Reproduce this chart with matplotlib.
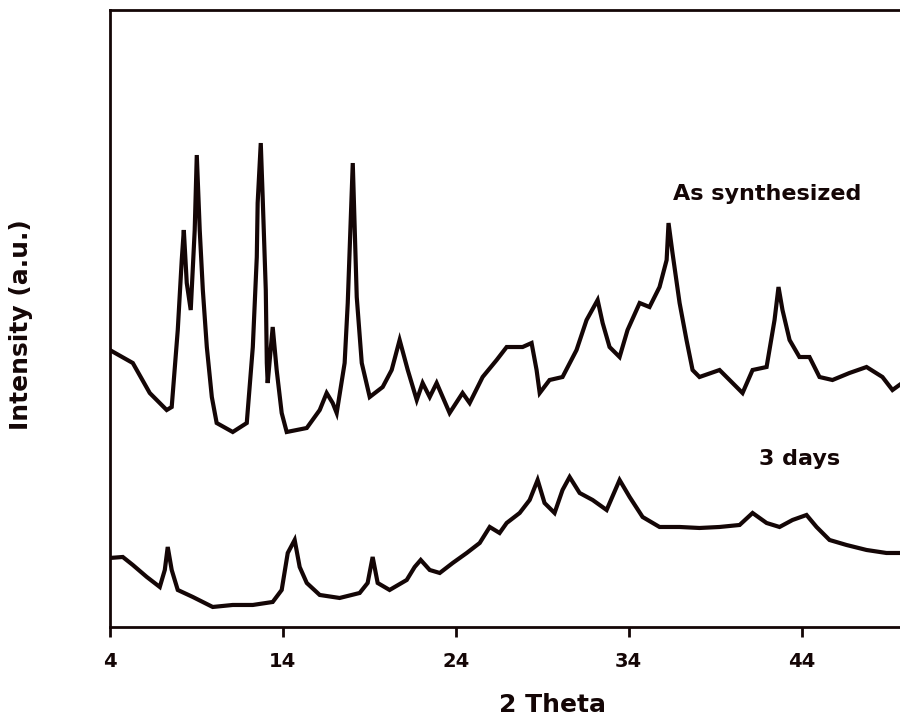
import numpy as np
import matplotlib
matplotlib.use("Agg")
import matplotlib.pyplot as plt

# XRD patterns (2 theta in degrees, intensity in arbitrary units)
synth_2theta = [4.0, 5.33, 6.31, 7.29, 7.58, 7.93, 8.16, 8.28, 8.45, 8.68, 8.91, 9.03, 9.20,
                9.38, 9.61, 9.90, 10.18, 11.11, 11.92, 12.27, 12.50, 12.55, 12.73, 12.84,
                13.02, 13.08, 13.13, 13.42, 13.65, 13.94, 14.23, 15.39, 16.14, 16.54, 16.89,
                17.12, 17.58, 17.76, 18.05, 18.28, 18.57, 19.03, 19.78, 20.30, 20.76, 21.23,
                21.75, 22.09, 22.50, 22.90, 23.65, 24.40, 24.81, 25.56, 26.37, 26.95, 27.87,
                28.39, 28.68, 28.86, 29.43, 30.18, 30.99, 31.57, 32.21, 32.50, 32.90, 33.48,
                33.94, 34.64, 35.21, 35.79, 36.20, 36.31, 36.54, 36.95, 37.35, 37.70, 38.10,
                39.26, 39.84, 40.59, 41.17, 41.98, 42.44, 42.67, 42.90, 43.31, 43.88, 44.46,
                45.04, 45.79, 46.77, 47.76, 48.68, 49.26, 49.66]
synth_int = [277, 264, 234, 217, 220, 297, 367, 397, 344, 317, 397, 472, 397,
             337, 280, 230, 204, 195, 204, 280, 370, 424, 484, 430,
             337, 264, 244, 300, 257, 214, 195, 199, 217, 234, 224,
             214, 264, 324, 464, 330, 264, 230, 240, 257, 287, 257,
             227, 244, 230, 244, 214, 234, 224, 250, 267, 280, 280,
             284, 257, 234, 247, 250, 277, 307, 327, 304, 280, 270,
             297, 324, 320, 340, 367, 404, 374, 324, 287, 257, 250,
             257, 247, 234, 257, 260, 307, 340, 317, 287, 270, 270,
             250, 247, 254, 260, 250, 237, 242]

days3_2theta = [4.0, 4.75, 5.33, 6.14, 6.89, 7.18, 7.35, 7.58, 7.93, 8.80, 9.95, 11.11,
                12.27, 13.42, 13.94, 14.29, 14.69, 14.98, 15.39, 16.14, 17.29, 18.45, 18.91,
                19.20, 19.49, 20.18, 21.17, 21.63, 21.98, 22.50, 23.08, 23.83, 24.64, 25.39,
                25.97, 26.54, 26.95, 27.70, 28.28, 28.74, 29.14, 29.72, 30.18, 30.59, 31.17,
                31.92, 32.73, 33.48, 34.06, 34.81, 35.79, 36.95, 38.10, 39.26, 40.42, 41.17,
                41.98, 42.73, 43.48, 44.29, 44.87, 45.62, 46.60, 47.76, 48.91, 49.66]
days3_int = [69, 70, 62, 50, 40, 57, 80, 57, 37, 30, 20, 22,
             22, 25, 37, 74, 87, 60, 44, 32, 29, 34, 44,
             70, 44, 37, 47, 60, 67, 57, 54, 64, 74, 84,
             100, 94, 104, 114, 127, 147, 124, 114, 137, 150, 134,
             127, 117, 147, 130, 110, 100, 100, 99, 100, 102, 114,
             104, 100, 107, 112, 100, 87, 82, 77, 74, 74]

xticks = [4, 14, 24, 34, 44]
ink = "#140606"

fig = plt.figure(figsize=(9, 7.19), dpi=100)
# the original frame runs on past the right edge of the picture
ax = fig.add_axes([0.122, 0.128, 0.983, 0.858])

ax.plot(synth_2theta, synth_int, color=ink, lw=3.0, solid_joinstyle="miter")
ax.plot(days3_2theta, days3_int, color=ink, lw=3.0, solid_joinstyle="miter")

ax.text(42.03, 433, "As synthesized", ha="center", va="center",
        fontsize=16, fontweight="bold", color=ink)
ax.text(43.88, 168, "3 days", ha="center", va="center",
        fontsize=16, fontweight="bold", color=ink)

ax.set_xlim(4, 55.16)
ax.set_ylim(0, 617)
ax.set_xticks(xticks)
ax.set_xticklabels([str(t) for t in xticks], fontsize=14, fontweight="bold", color=ink)
ax.set_yticks([])
ax.tick_params(axis="x", direction="out", length=7, width=2, color=ink, pad=11)

for side in ["left", "bottom", "top"]:
    ax.spines[side].set_linewidth(2)
    ax.spines[side].set_color(ink)
ax.spines["right"].set_visible(False)

ax.set_xlabel("2 Theta", fontsize=18, fontweight="bold", color=ink)
ax.set_ylabel("Intensity (a.u.)", fontsize=18, fontweight="bold", color=ink)
ax.xaxis.set_label_coords(0.5, -0.107)
ax.yaxis.set_label_coords(-0.087, 0.49)

fig.savefig("out.png", dpi=100)
